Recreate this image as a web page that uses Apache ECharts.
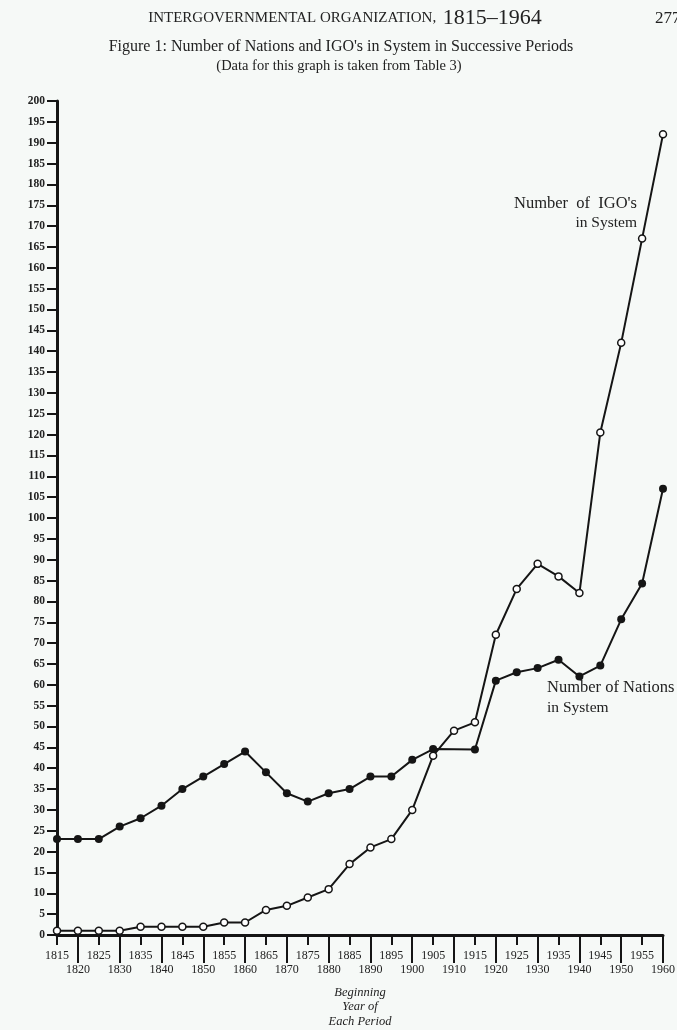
<!DOCTYPE html>
<html>
<head>
<meta charset="utf-8">
<script src="https://cdn.jsdelivr.net/npm/echarts@6/dist/echarts.min.js"></script>
<style>
html,body{margin:0;padding:0;background:#f6f9f7;}
#chart{width:677px;height:1030px;}
</style>
</head>
<body>
<div id="chart"></div>
<script>
var years = [1815,1820,1825,1830,1835,1840,1845,1850,1855,1860,1865,1870,1875,1880,1885,1890,1895,1900,1905,1910,1915,1920,1925,1930,1935,1940,1945,1950,1955,1960];
var nations = [23,23,23,26,28,31,35,38,41,44,39,34,32,34,35,38,38,42,44.6,null,44.5,61,63,64,66,62,64.6,75.7,84.3,107];
var igos = [1,1,1,1,2,2,2,2,3,3,6,7,9,11,17,21,23,30,43,49,51,72,83,89,86,82,120.5,142,167,192];
var upperRowYears = [1815,1825,1835,1845,1855,1865,1875,1885,1895,1905,1915,1925,1935,1945,1955];
var lowerRowYears = [1820,1830,1840,1850,1860,1870,1880,1890,1900,1910,1920,1930,1940,1950,1960];

var ink = '#151515';
var serif = '"Liberation Serif", "DejaVu Serif", serif';

function pairs(vals){ return years.map(function(y,i){ return [y, vals[i]]; }); }
function plainYear(v){ return String(v); }

var chart = echarts.init(document.getElementById('chart'), null, {renderer:'canvas'});
chart.setOption({
  animation: false,
  backgroundColor: '#f6f9f7',
  grid: {left:57, right:14, top:101, bottom:95, containLabel:false, outerBoundsMode:'none'},
  xAxis: [{
    type:'value', min:1815, max:1960, interval:5,
    axisLine:{show:true, onZero:false, lineStyle:{color:ink, width:3}},
    axisTick:{show:true, length:10, lineStyle:{color:ink, width:2}},
    splitLine:{show:false},
    axisLabel:{
      margin:15, color:'#222', fontFamily:serif, fontSize:12,
      customValues: upperRowYears, hideOverlap:false, formatter: plainYear
    },
    name:'Beginning\nYear of\nEach Period',
    nameLocation:'middle', nameGap:50,
    nameTextStyle:{color:'#222', fontFamily:serif, fontStyle:'italic', fontSize:12.5, lineHeight:14.5}
  },{
    type:'value', min:1815, max:1960, position:'bottom', offset:0,
    axisLine:{show:false},
    splitLine:{show:false},
    axisLabel:{margin:29, color:'#222', fontFamily:serif, fontSize:12, customValues: lowerRowYears, hideOverlap:false, formatter: plainYear},
    axisTick:{show:true, length:28, customValues: lowerRowYears, lineStyle:{color:ink, width:2}}
  }],
  yAxis: {
    type:'value', min:0, max:200, interval:5,
    axisLine:{show:true, lineStyle:{color:ink, width:3}},
    axisTick:{show:true, length:10, lineStyle:{color:ink, width:2}},
    splitLine:{show:false},
    axisLabel:{margin:12, color:'#222', fontFamily:serif, fontSize:11.5, fontWeight:'bold', showMinLabel:true, showMaxLabel:true}
  },
  series: [{
    name:'Number of Nations in System', type:'line', xAxisIndex:0,
    data: pairs(nations), connectNulls:true,
    symbol:'circle', symbolSize:8,
    lineStyle:{color:ink, width:2},
    itemStyle:{color:ink}
  },{
    name:"Number of IGO's in System", type:'line', xAxisIndex:0,
    data: pairs(igos),
    symbol:'circle', symbolSize:7,
    lineStyle:{color:ink, width:2},
    itemStyle:{color:'#ffffff', borderColor:ink, borderWidth:1.5}
  }],
  graphic: [
    {type:'text', x:345, y:18, style:{
      text:'{a|INTERGOVERNMENTAL ORGANIZATION,}  {b|1815–1964}',
      align:'center', verticalAlign:'middle',
      rich:{a:{fontFamily:serif, fontSize:15, fill:'#222'}, b:{fontFamily:serif, fontSize:22, fill:'#222'}}
    }},
    {type:'text', x:655, y:19, style:{text:'277', fontFamily:serif, fontSize:17, fill:'#222', verticalAlign:'middle'}},
    {type:'text', x:341, y:47, style:{text:"Figure 1: Number of Nations and IGO's in System in Successive Periods", fontFamily:serif, fontSize:16, fill:'#222', align:'center', verticalAlign:'middle'}},
    {type:'text', x:339, y:66, style:{text:'(Data for this graph is taken from Table 3)', fontFamily:serif, fontSize:14.5, fill:'#222', align:'center', verticalAlign:'middle'}},
    {type:'text', x:637, y:204, style:{text:"Number  of  IGO's", fontFamily:serif, fontSize:16.5, fill:'#222', align:'right', verticalAlign:'middle'}},
    {type:'text', x:637, y:223, style:{text:'in System', fontFamily:serif, fontSize:15.5, fill:'#222', align:'right', verticalAlign:'middle'}},
    {type:'text', x:547, y:688, style:{text:'Number of Nations', fontFamily:serif, fontSize:16.5, fill:'#222', align:'left', verticalAlign:'middle'}},
    {type:'text', x:547, y:708, style:{text:'in System', fontFamily:serif, fontSize:15.5, fill:'#222', align:'left', verticalAlign:'middle'}}
  ]
});
</script>
</body>
</html>
